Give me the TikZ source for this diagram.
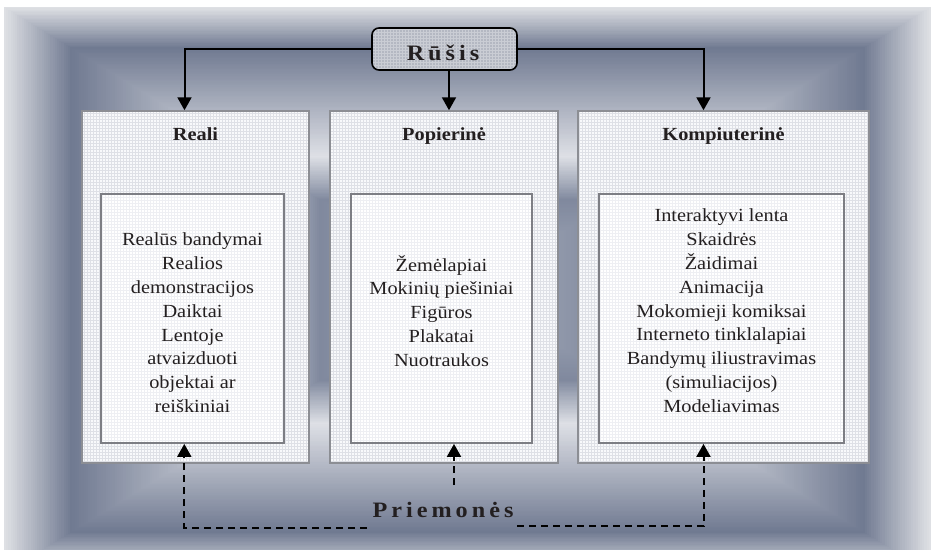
\documentclass[tikz,border=0pt]{standalone}
\usepackage{fontspec}
\setmainfont{Liberation Serif}[FakeStretch=1.1]
\usetikzlibrary{arrows.meta,patterns}

\definecolor{ink}{RGB}{35,31,32}
\definecolor{bgedge}{RGB}{222,224,228}
\definecolor{bgdark}{RGB}{112,122,145}
\definecolor{bglight}{RGB}{222,224,230}
\definecolor{bgdarktwo}{RGB}{128,137,158}
\definecolor{bgcenter}{RGB}{170,176,190}
\definecolor{panelgrid}{RGB}{222,224,230}
\definecolor{panelbase}{RGB}{248,249,251}
\definecolor{panelline}{RGB}{140,142,148}
\definecolor{listgrid}{RGB}{238,239,243}
\definecolor{listline}{RGB}{125,126,132}
\definecolor{headbase}{RGB}{180,184,194}
\definecolor{headgrid}{RGB}{202,205,212}

% letter spacing for the two headings
\newcommand\lsp{\kern4pt\relax}

\tikzset{
  outerbox/.style={draw=panelline, line width=1.5pt, preaction={fill=panelbase},
    pattern=grid, pattern color=panelgrid, inner sep=0pt, minimum height=352pt},
  innerbox/.style={draw=listline, line width=1.8pt, preaction={fill=white},
    pattern=grid, pattern color=listgrid, inner sep=0pt, minimum height=249pt},
  headbox/.style={draw=black, line width=1.6pt, rounded corners=7pt,
    preaction={fill=headbase}, pattern=grid, pattern color=headgrid,
    inner sep=0pt, minimum width=145pt, minimum height=42pt},
  titletext/.style={anchor=base, inner sep=0pt, text=ink,
    font=\fontsize{18.5}{22}\selectfont\bfseries},
  listtext/.style={anchor=north, inner sep=0pt, align=center, text=ink,
    font=\fontsize{18.5}{23.8}\selectfont},
  bigtext/.style={anchor=base, inner sep=0pt, text=ink,
    font=\fontsize{22}{26}\selectfont\bfseries},
  solidarrow/.style={draw=black, line width=2pt,
    -{Triangle[width=14pt,length=13pt]}},
  dasharrow/.style={draw=black, line width=2pt, dash pattern=on 7pt off 5pt,
    -{Triangle[width=14pt,length=13pt]}},
}

\begin{document}
\begin{tikzpicture}[x=1pt,y=-1pt]
\useasboundingbox (0,0) rectangle (935,554);
\fill[white] (0,0) rectangle (935,554);

% framed background: rectangular multi-band gradient
\def\gcx{467.5}\def\gcy{290}\def\ghw{463.5}\def\ghh{283}
\begin{scope}
  \clip (4,7) rectangle (931,549);
  \foreach \sa/\sb/\ca/\cb/\n in {1/0.857/bgedge/bgdark/30,
      0.857/0.475/bgdark/bglight/80,
      0.475/0.32/bglight/bgdarktwo/34,
      0.32/0.0/bgdarktwo/bgcenter/60}{
    \foreach \k in {0,...,\n}{
      \pgfmathsetmacro\s{\sa+(\sb-\sa)*\k/\n}
      \pgfmathtruncatemacro\p{100*\k/\n}
      \fill[\cb!\p!\ca] ({\gcx-\s*\ghw},{\gcy-\s*\ghh}) rectangle ({\gcx+\s*\ghw},{\gcy+\s*\ghh});
    }
  }
\end{scope}

% three category panels
\node[outerbox, minimum width=227pt] (reali)  at (195.5,287) {};
\node[outerbox, minimum width=228pt] (popier) at (444,287) {};
\node[outerbox, minimum width=291pt] (komp)   at (723.5,287) {};

% inner lists
\node[innerbox, minimum width=183pt] (realiList)  at (192.5,318.5) {};
\node[innerbox, minimum width=181pt] (popierList) at (441.5,318.5) {};
\node[innerbox, minimum width=245pt] (kompList)   at (721.5,318.5) {};

% panel titles
\node[titletext] (realiT)  at (195.5,140.5) {Reali};
\node[titletext] (popierT) at (444,140.5) {Popierinė};
\node[titletext] (kompT)   at (723.5,140.5) {Kompiuterinė};

% list contents
\node[listtext] (realiTxt) at (192.5,229) {\strut Realūs bandymai\\Realios\\demonstracijos\\Daiktai\\Lentoje\\atvaizduoti\\objektai ar\\reiškiniai};
\node[listtext] (popierTxt) at (441.5,254.3) {\strut Žemėlapiai\\Mokinių piešiniai\\Figūros\\Plakatai\\Nuotraukos};
\node[listtext] (kompTxt) at (721.5,205) {\strut Interaktyvi lenta\\Skaidrės\\Žaidimai\\Animacija\\Mokomieji komiksai\\Interneto tinklalapiai\\Bandymų iliustravimas\\(simuliacijos)\\Modeliavimas};

% heading box
\node[headbox] (rusis) at (444.5,49) {};
\node[bigtext] (rusisT) at (443,60) {R\lsp ū\lsp š\lsp i\lsp s};

% arrows from the heading
\draw[solidarrow] (rusis.west) -| ([xshift=-11pt]reali.north);
\draw[solidarrow] (rusis.east) -| ([xshift=-20pt]komp.north);
\draw[solidarrow] ([xshift=4.5pt]rusis.south) -- ([xshift=5pt]popier.north);

% bottom label and dashed connectors
\node[bigtext] (priem) at (443,517) {P\lsp r\lsp i\lsp e\lsp m\lsp o\lsp n\lsp ė\lsp s};
\coordinate (pmL) at (367,527.5);
\coordinate (pmM) at (454,485);
\coordinate (pmR) at (517,526);
\draw[dasharrow] (pmL) -| ([xshift=-8.2pt]realiList.south);
\draw[dasharrow] (pmM) -- ([xshift=12.5pt]popierList.south);
\draw[dasharrow] (pmR) -| ([xshift=-18pt]kompList.south);
\end{tikzpicture}
\end{document}
